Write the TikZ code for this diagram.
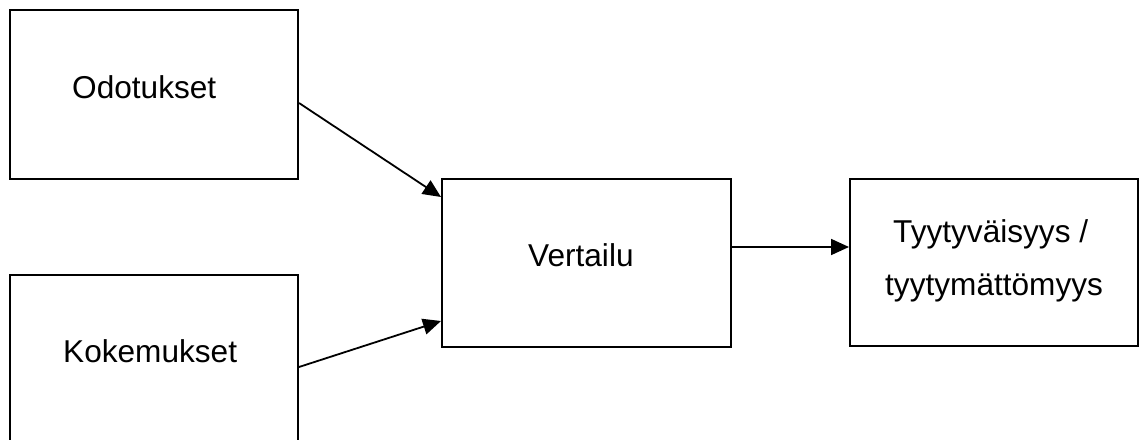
\documentclass[tikz,border=0pt]{standalone}
\usepackage{fontspec}
\setmainfont{Liberation Sans}
\usetikzlibrary{arrows.meta}
\begin{document}
\begin{tikzpicture}[x=1pt,y=-1pt,
  box/.style={draw=black, line width=2pt, inner sep=0pt, rectangle},
  lbl/.style={anchor=base west, inner sep=0pt, font=\fontsize{31.6}{40}\selectfont},
  arr/.style={line width=1.8pt, -{Triangle[length=18pt,width=16pt]}}]
  \useasboundingbox (0,0) rectangle (1139,439);
  \clip (0,0) rectangle (1139,439);
  % boxes
  \node[box, minimum width=288pt, minimum height=169pt] (odo) at (154,94.5) {};
  \node[box, minimum width=288pt, minimum height=169pt] (kok) at (154,359.5) {};
  \node[box, minimum width=289pt, minimum height=168pt] (ver) at (586.5,263) {};
  \node[box, minimum width=288pt, minimum height=167pt] (tyy) at (994,262.5) {};
  % texts
  \node[lbl] (todo) at (72,98) {Odotukset};
  \node[lbl] (tkok) at (63,362) {Kokemukset};
  \node[lbl] (tver) at (528,266) {Vertailu};
  \node[lbl] (ttyy1) at (893,242) {Tyytyväisyys /};
  \node[lbl] (ttyy2) at (885,295) {tyytymättömyys};
  % connectors
  \draw[arr] ([yshift=-8.5pt]odo.east) -- ([yshift=-19pt]ver.north west);
  \draw[arr] ([yshift=-7.5pt]kok.east) -- ([yshift=27pt]ver.south west);
  \draw[arr] ([yshift=16pt]ver.east) -- ([yshift=15.5pt]tyy.west);
\end{tikzpicture}
\end{document}
